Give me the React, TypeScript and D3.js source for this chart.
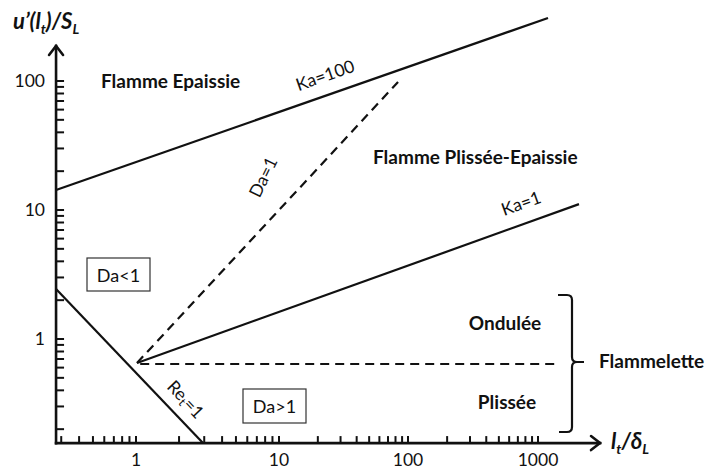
import React from 'react';
import * as d3 from 'd3';

const W = 708;
const H = 470;

// Axis ticks (log scales)
const xMajor = [1, 10, 100, 1000];
const xMajorLabels = ['1', '10', '100', '1000'];
const yMajor = [1, 10, 100];
const yMajorLabels = ['1', '10', '100'];
const xMinor = [0.3, 0.4, 0.5, 0.6, 0.7, 0.8, 0.9, 2, 3, 4, 5, 6, 7, 8, 9, 20, 30, 40, 50, 60, 70, 80, 90, 200, 300, 400, 500, 600, 700, 800, 900];
const yMinor = [0.2, 0.3, 0.4, 0.5, 0.6, 0.7, 0.8, 0.9, 2, 3, 4, 5, 6, 7, 8, 9, 20, 30, 40, 50, 60, 70, 80, 90];

// Axis extents (data units)
const xAxisMin = 0.276;
const xAxisMax = 3000;
const yAxisMin = 0.156;
const yAxisMax = 187;

// Regime boundary lines (l_t/δ_L, u'/S_L)
const ka100: [number, number][] = [[0.276, 14.3], [1194, 308]];
const ka1: [number, number][] = [[1.016, 0.652], [2067, 11.1]];
const da1: [number, number][] = [[1.016, 0.652], [83.7, 98.3]];
const flamelet: [number, number][] = [[1.07, 0.64], [1375, 0.64]];
const re1: [number, number][] = [[0.276, 2.44], [2.94, 0.156]];

const FONT = 'Lato, "Open Sans", sans-serif';

export default function App() {
  const x = d3.scaleLog().domain([1, 10, 100, 1000]).range([136, 279, 408, 538]);
  const y = d3.scaleLog().domain([1, 100]).range([339, 81]);
  const line = d3.line<[number, number]>().x(d => x(d[0])).y(d => y(d[1]));

  const x0 = x(xAxisMin);
  const y0 = y(yAxisMin);
  const x1 = x(xAxisMax);
  const y1 = y(yAxisMax);

  const angle = (pts: [number, number][]) =>
    (Math.atan2(y(pts[1][1]) - y(pts[0][1]), x(pts[1][0]) - x(pts[0][0])) * 180) / Math.PI;

  const ka100Ang = angle(ka100);
  const ka1Ang = angle(ka1);
  const reAng = angle(re1);

  const bold = { fontFamily: FONT, fontWeight: 700, fontSize: 19, fill: '#111' } as const;
  const lab = { fontFamily: FONT, fontSize: 17.5, fill: '#111' } as const;
  const tick = { fontFamily: FONT, fontSize: 17.5, fill: '#111' } as const;

  return (
    <svg width={W} height={H} style={{ position: 'absolute', left: 0, top: 0, background: '#fff' }}>
      <rect x={0} y={0} width={W} height={H} fill="#fff" />
      {/* axes */}
      <g stroke="#111" strokeWidth={2.6} fill="none" strokeLinecap="square">
        <line x1={x0} y1={y0} x2={x1} y2={y0} />
        <line x1={x0} y1={y0} x2={x0} y2={y1} />
        <path d={`M${x1 - 9},${y0 - 7} L${x1},${y0} L${x1 - 9},${y0 + 7}`} strokeLinecap="round" />
        <path d={`M${x0 - 7},${y1 + 9} L${x0},${y1} L${x0 + 7},${y1 + 9}`} strokeLinecap="round" />
      </g>
      {/* ticks */}
      <g stroke="#111" strokeWidth={2}>
        {xMajor.concat(xMinor).map((v, i) => (
          <line key={'xt' + i} x1={x(v)} x2={x(v)} y1={y0} y2={y0 - 7} />
        ))}
        {yMajor.concat(yMinor).map((v, i) => (
          <line key={'yt' + i} x1={x0} x2={x0 + 8} y1={y(v)} y2={y(v)} />
        ))}
      </g>
      {xMajor.map((v, i) => (
        <text key={'xl' + i} x={x(v)} y={466} textAnchor="middle" style={tick}>
          {xMajorLabels[i]}
        </text>
      ))}
      {yMajor.map((v, i) => (
        <text key={'yl' + i} x={45} y={y(v) + 6} textAnchor="end" style={tick}>
          {yMajorLabels[i]}
        </text>
      ))}

      {/* axis titles */}
      <text x={13} y={29} style={{ fontFamily: FONT, fontWeight: 700, fontStyle: 'italic', fontSize: 22, fill: '#111' }}>
        u’(l<tspan dy={5} fontSize={14}>t</tspan>
        <tspan dy={-5}>)/S</tspan>
        <tspan dy={5} fontSize={14}>L</tspan>
      </text>
      <text x={611} y={449} style={{ fontFamily: FONT, fontWeight: 700, fontStyle: 'italic', fontSize: 22, fill: '#111' }}>
        l<tspan dy={5} fontSize={14}>t</tspan>
        <tspan dy={-5}>/δ</tspan>
        <tspan dy={5} fontSize={14}>L</tspan>
      </text>

      {/* regime lines */}
      <g fill="none" stroke="#111" strokeWidth={2.2}>
        <path d={line(ka100) || ''} />
        <path d={line(ka1) || ''} />
        <path d={line(re1) || ''} />
        <path d={line(da1) || ''} strokeDasharray="9 6" />
        <path d={line(flamelet) || ''} strokeDasharray="9 6" />
      </g>

      {/* brace */}
      <path
        d="M558,295 H567 Q572,295 572,300 V357 Q572,362 577,362 H584 M577,362 Q572,362 572,367 V427 Q572,432 567,432 H559"
        fill="none"
        stroke="#111"
        strokeWidth={2.2}
      />

      {/* line labels */}
      <text x={325} y={75} textAnchor="middle" dominantBaseline="central" transform={`rotate(${ka100Ang},325,75)`} style={lab}>
        Ka=100
      </text>
      <text x={521} y={203} textAnchor="middle" dominantBaseline="central" transform={`rotate(${ka1Ang},521,203)`} style={lab}>
        Ka=1
      </text>
      <text x={263} y={177} textAnchor="middle" dominantBaseline="central" transform="rotate(-64,263,177)" style={lab}>
        Da=1
      </text>
      <text x={186} y={399} textAnchor="middle" dominantBaseline="central" transform={`rotate(${reAng},186,399)`} style={lab}>
        Re<tspan dy={4} fontSize={12}>t</tspan>
        <tspan dy={-4}>=1</tspan>
      </text>

      {/* boxes */}
      <rect x={87} y={258} width={63} height={33} fill="#fff" stroke="#333" strokeWidth={1.2} />
      <text x={118.5} y={275} textAnchor="middle" dominantBaseline="central" style={{ ...lab, fontSize: 18 }}>
        Da&lt;1
      </text>
      <rect x={243} y={389} width={63} height={34} fill="#fff" stroke="#333" strokeWidth={1.2} />
      <text x={274.5} y={406} textAnchor="middle" dominantBaseline="central" style={{ ...lab, fontSize: 18 }}>
        Da&gt;1
      </text>

      {/* regime names */}
      <text x={101} y={88} style={bold}>Flamme Epaissie</text>
      <text x={373} y={164} style={bold}>Flamme Plissée-Epaissie</text>
      <text x={505} y={330} textAnchor="middle" style={bold}>Ondulée</text>
      <text x={507} y={409} textAnchor="middle" style={bold}>Plissée</text>
      <text x={599} y={368} style={bold}>Flammelette</text>
    </svg>
  );
}
